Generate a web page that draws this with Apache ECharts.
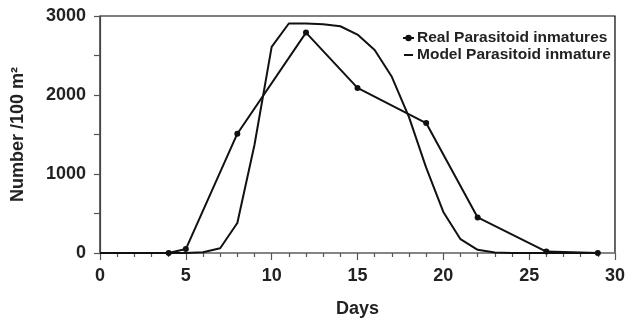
<!DOCTYPE html>
<html>
<head>
<meta charset="utf-8">
<script src="https://cdn.jsdelivr.net/npm/echarts@6/dist/echarts.min.js"></script>
<style>html,body{margin:0;padding:0;background:#fff}#c{width:628px;height:324px}</style>
</head>
<body>
<div id="c"></div>
<script>
var realDays = [4, 5, 8, 12, 15, 19, 22, 26, 29];
var realValues = [0, 50, 1510, 2790, 2090, 1645, 450, 18, 0];
var modelDays = [0,1,2,3,4,5,6,7,8,9,10,11,12,13,14,15,16,17,18,19,20,21,22,23,24,25,26,27,28,29];
var modelValues = [0,0,0,0,0,0,10,60,380,1370,2610,2905,2905,2895,2870,2765,2570,2230,1720,1080,520,175,40,5,0,0,0,0,0,0];
var xTicks = [0, 5, 10, 15, 20, 25, 30];
var yTicks = [0, 1000, 2000, 3000];
var seriesNames = ['Real Parasitoid inmatures', 'Model Parasitoid inmature'];

function pairs(xs, ys){ return xs.map(function(x,i){ return [x, ys[i]]; }); }

var dashIcon = 'path://M0,0 L0.01,0 L0.01,0.01 Z M1,3.1 L10,3.1 L10,4.9 L1,4.9 Z M10.99,7.99 L11,8 L10.99,8 Z';
var font = '"Liberation Sans", Arial, sans-serif';
var chart = echarts.init(document.getElementById('c'));
chart.setOption({
  animation: false,
  grid: {left: 100, right: 10, top: 16, bottom: 71, show: true, borderColor: '#000', borderWidth: 1.2},
  legend: {
    orient: 'vertical', left: 397, top: 25, itemGap: 1, itemWidth: 11, itemHeight: 8,
    textStyle: {fontFamily: font, fontWeight: 'bold', fontSize: 15.5, color: '#222', padding: [0,0,0,-2]},
    data: [{name: seriesNames[0]}, {name: seriesNames[1], icon: dashIcon}]
  },
  xAxis: {
    type: 'value', min: xTicks[0], max: xTicks[xTicks.length-1], interval: 5,
    name: 'Days', nameLocation: 'middle', nameGap: 47,
    nameTextStyle: {fontFamily: font, fontWeight: 'bold', fontSize: 18, color: '#222'},
    axisLine: {show: true, lineStyle: {color: '#888', width: 1.5}},
    axisTick: {show: true, length: 7, lineStyle: {color: '#555', width: 1.2}},
    minorTick: {show: true, splitNumber: 5, length: 4, lineStyle: {color: '#555', width: 1.2}},
    axisLabel: {fontFamily: font, fontWeight: 'bold', fontSize: 18, color: '#222', margin: 14},
    splitLine: {show: false}
  },
  yAxis: {
    type: 'value', min: yTicks[0], max: yTicks[yTicks.length-1], interval: 1000,
    name: 'Number /100 m²', nameLocation: 'middle', nameGap: 73,
    nameTextStyle: {fontFamily: font, fontWeight: 'bold', fontSize: 18, color: '#222'},
    axisLine: {show: true, lineStyle: {color: '#444', width: 1.2}},
    axisTick: {show: true, length: 6, lineStyle: {color: '#555', width: 1.2}},
    minorTick: {show: true, splitNumber: 2, length: 6, lineStyle: {color: '#555', width: 1.2}},
    axisLabel: {fontFamily: font, fontWeight: 'bold', fontSize: 18, color: '#222', margin: 14,
      formatter: function(v){ return String(v); }},
    splitLine: {show: false}
  },
  series: [
    {
      name: seriesNames[0], type: 'line', data: pairs(realDays, realValues),
      symbol: 'circle', symbolSize: 6, z: 3,
      lineStyle: {color: '#111', width: 2}, itemStyle: {color: '#111'}
    },
    {
      name: seriesNames[1], type: 'line', data: pairs(modelDays, modelValues),
      showSymbol: false, symbol: 'none', z: 2,
      lineStyle: {color: '#111', width: 2}, itemStyle: {color: '#111'}
    }
  ]
});
</script>
</body>
</html>
